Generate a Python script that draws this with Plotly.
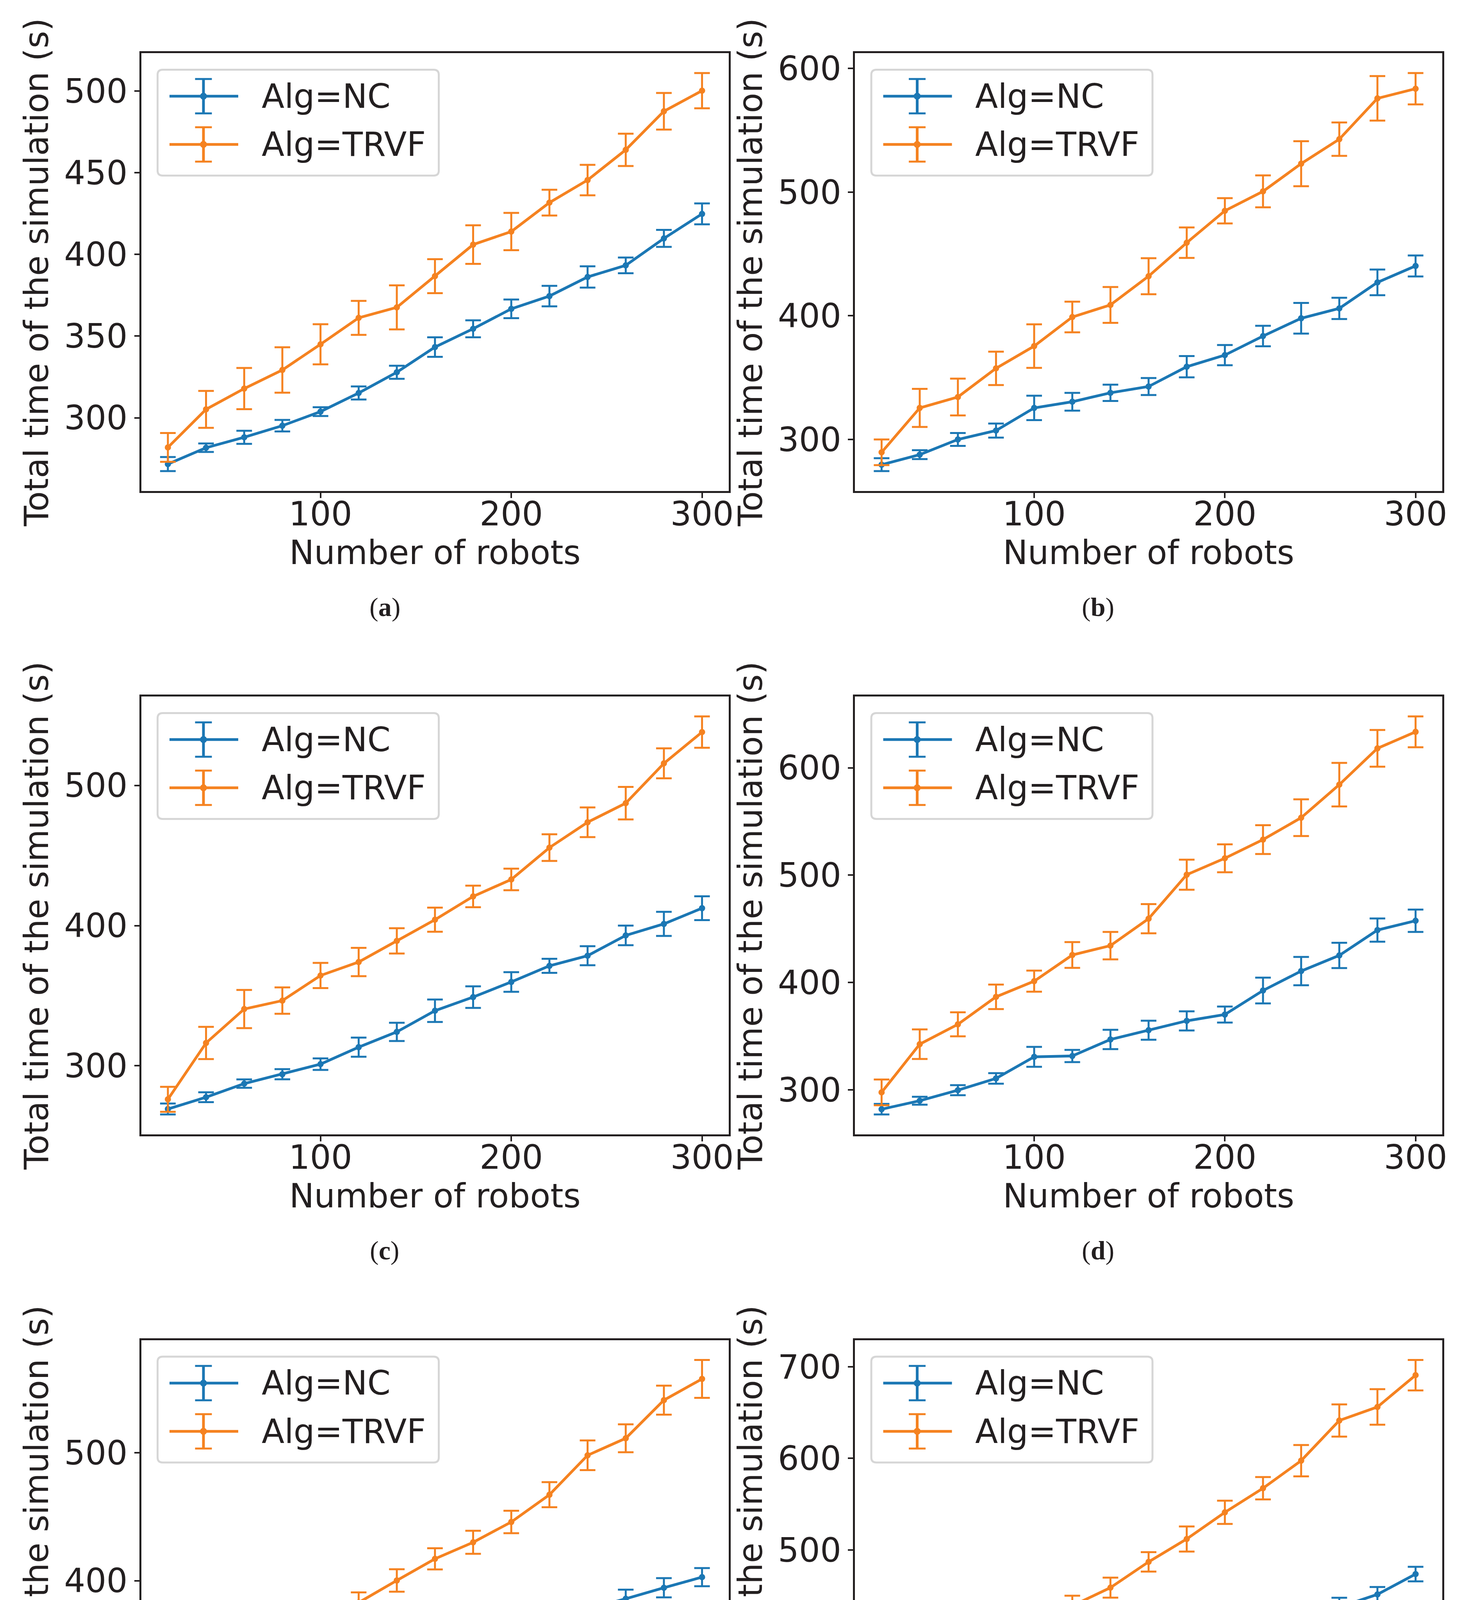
import plotly.graph_objects as go

# ---------------- data ----------------
robots = [20, 40, 60, 80, 100, 120, 140, 160, 180, 200, 220, 240, 260, 280, 300]

nc_a = [271.7, 281.7, 288.1, 295.2, 303.8, 315.2, 327.9, 343.3, 354.5, 366.7, 374.5, 386.2, 393.3, 409.8, 424.8]
nc_a_err = [4.3, 2.6, 4.0, 3.5, 2.7, 4.0, 4.0, 6.0, 5.2, 5.7, 6.3, 6.5, 4.8, 5.2, 6.4]
trvf_a = [281.9, 305.2, 317.9, 329.3, 345.0, 361.2, 367.6, 386.7, 406.0, 414.0, 431.7, 445.5, 464.0, 487.6, 500.2]
trvf_a_err = [8.8, 11.3, 12.6, 13.9, 12.3, 10.4, 13.5, 10.4, 11.8, 11.4, 7.9, 9.3, 9.9, 11.2, 10.8]

nc_b = [279.6, 287.7, 300.0, 307.2, 325.5, 330.5, 337.7, 342.8, 358.8, 368.2, 383.6, 398.0, 406.0, 427.0, 440.3]
nc_b_err = [5.2, 3.6, 5.2, 5.7, 9.9, 7.2, 6.6, 6.9, 8.6, 8.2, 8.3, 12.4, 8.6, 10.4, 8.5]
trvf_b = [289.6, 325.5, 334.3, 357.5, 375.5, 399.0, 408.8, 432.0, 459.1, 484.9, 500.6, 523.0, 542.8, 575.8, 583.6]
trvf_b_err = [10.4, 15.4, 14.9, 13.5, 17.6, 12.4, 14.5, 14.6, 12.3, 10.2, 12.9, 18.2, 13.5, 18.0, 12.7]

nc_c = [269.2, 277.6, 287.3, 294.0, 301.2, 313.3, 324.2, 339.3, 349.0, 359.8, 371.3, 378.5, 393.0, 401.2, 412.4]
nc_c_err = [3.9, 3.5, 3.0, 3.6, 4.1, 6.8, 6.5, 8.0, 7.7, 7.0, 5.0, 6.8, 7.0, 8.6, 8.5]
trvf_c = [276.1, 316.3, 340.5, 346.5, 364.4, 374.0, 389.1, 404.2, 420.8, 432.9, 455.6, 473.7, 487.3, 515.7, 538.0]
trvf_c_err = [8.9, 11.5, 13.6, 9.4, 9.0, 10.1, 9.0, 8.6, 7.7, 7.7, 9.5, 10.6, 11.6, 10.7, 11.2]

nc_d = [281.9, 289.8, 299.6, 310.6, 330.7, 331.5, 346.9, 355.5, 364.2, 370.1, 392.5, 410.6, 425.2, 448.8, 457.5]
nc_d_err = [4.9, 3.7, 4.7, 4.9, 9.3, 5.7, 9.0, 8.9, 8.9, 7.5, 12.0, 13.2, 11.8, 10.8, 10.4]
trvf_d = [297.6, 342.5, 361.0, 386.6, 401.2, 425.6, 434.3, 459.4, 500.4, 515.7, 533.1, 553.5, 584.3, 618.1, 633.5]
trvf_d_err = [12.0, 13.8, 11.2, 11.4, 9.8, 12.0, 12.8, 13.6, 14.0, 13.0, 13.4, 17.1, 20.3, 17.1, 14.4]

nc_e = [266.8, 279.8, 288.4, 293.7, 298.7, 309.6, 319.6, 338.1, 346.4, 360.7, 366.0, 378.0, 385.9, 394.5, 402.8]
nc_e_err = [5.8, 3.5, 3.5, 4.1, 5.5, 7.1, 6.8, 6.6, 7.5, 5.8, 6.1, 5.6, 7.1, 7.5, 7.1]
trvf_e = [272.8, 316.6, 331.8, 351.7, 367.7, 382.9, 400.2, 417.1, 430.0, 445.9, 467.2, 498.0, 511.3, 541.1, 557.7]
trvf_e_err = [11.8, 11.9, 10.0, 9.8, 8.3, 8.0, 8.8, 8.3, 9.0, 8.8, 9.8, 11.6, 10.9, 11.3, 14.8]

nc_f = [278.8, 291.7, 303.2, 313.4, 328.2, 341.1, 351.7, 366.5, 372.1, 388.7, 401.2, 424.2, 437.6, 451.5, 473.7]
nc_f_err = [6.5, 7.4, 6.0, 7.4, 7.4, 10.4, 9.7, 11.1, 10.4, 11.5, 10.2, 10.9, 10.2, 8.1, 7.9]
trvf_f = [298.2, 346.7, 369.7, 392.4, 420.6, 439.0, 458.9, 487.0, 512.0, 541.1, 567.4, 597.5, 641.3, 656.1, 690.8]
trvf_f_err = [14.5, 11.8, 10.2, 8.1, 15.2, 11.1, 10.9, 10.6, 13.7, 12.7, 12.2, 17.1, 17.6, 19.4, 16.6]

x_ticks = [100, 200, 300]
y_ticks_a = [300, 350, 400, 450, 500]
y_ticks_b = [300, 400, 500, 600]
y_ticks_c = [300, 400, 500]
y_ticks_d = [300, 400, 500, 600]
y_ticks_e = [300, 400, 500]
y_ticks_f = [300, 400, 500, 600, 700]

panel_labels = ["a", "b", "c", "d", "e", "f"]
series_names = ["Alg=NC", "Alg=TRVF"]
x_title = "Number of robots"
y_title = "Total time of the simulation (s)"

panels = [
    (nc_a, nc_a_err, trvf_a, trvf_a_err, y_ticks_a),
    (nc_b, nc_b_err, trvf_b, trvf_b_err, y_ticks_b),
    (nc_c, nc_c_err, trvf_c, trvf_c_err, y_ticks_c),
    (nc_d, nc_d_err, trvf_d, trvf_d_err, y_ticks_d),
    (nc_e, nc_e_err, trvf_e, trvf_e_err, y_ticks_e),
    (nc_f, nc_f_err, trvf_f, trvf_f_err, y_ticks_f),
]

# ---------------- style / geometry ----------------
W, H = 3764, 4953
COL_L = [353.5, 2181.0]
COL_R = [1858.0, 3685.0]
ROW_T = [128.0, 1775.0, 3422.5]
ROW_B = [1249.0, 2896.0, 4545.0]
CAP_X = [977.0, 2803.0]
CAP_DY = 297.0

BLUE = "#1b77b4"
ORANGE = "#f58220"
COLORS = [BLUE, ORANGE]
TXT = "#231f20"
FONT = "DejaVu Sans"
FS = 85

fig = go.Figure()
shapes = []
annotations = []

for i, (nc, nce, tr, tre, yt) in enumerate(panels):
    r, c = divmod(i, 2)
    k = "" if i == 0 else str(i + 1)
    xa, ya = "x" + k, "y" + k
    left, right = COL_L[c], COL_R[c]
    top, bottom = ROW_T[r], ROW_B[r]
    bw, bh = right - left, bottom - top

    for s, (vals, errs) in enumerate([(nc, nce), (tr, tre)]):
        fig.add_trace(go.Scatter(
            x=robots, y=vals, mode="lines+markers", name=series_names[s],
            xaxis=xa, yaxis=ya, showlegend=False,
            line=dict(color=COLORS[s], width=7),
            marker=dict(color=COLORS[s], size=16),
            error_y=dict(type="data", array=errs, visible=True,
                         color=COLORS[s], thickness=5, width=20),
        ))

    lo = min(min(v - e for v, e in zip(nc, nce)), min(v - e for v, e in zip(tr, tre)))
    hi = max(max(v + e for v, e in zip(nc, nce)), max(v + e for v, e in zip(tr, tre)))
    pad = 0.05 * (hi - lo)
    xpad = 0.05 * (max(robots) - min(robots))

    axis_common = dict(
        showline=True, mirror=True, linecolor=TXT, linewidth=5,
        ticks="outside", ticklen=13, tickwidth=4, tickcolor=TXT,
        showgrid=False, zeroline=False, automargin=False,
        tickfont=dict(family=FONT, size=FS, color=TXT),
    )
    fig.update_layout(**{
        ("xaxis" + k): dict(
            domain=[left / W, right / W], anchor=ya,
            range=[min(robots) - xpad, max(robots) + xpad],
            tickmode="array", tickvals=x_ticks, ticktext=[str(t) for t in x_ticks],
            ticklabelstandoff=-32,
            title=dict(text=x_title, font=dict(family=FONT, size=FS, color=TXT), standoff=12),
            **axis_common),
        ("yaxis" + k): dict(
            domain=[1 - bottom / H, 1 - top / H], anchor=xa,
            range=[lo - pad, hi + pad],
            tickmode="array", tickvals=yt, ticktext=[str(t) for t in yt],
            title=dict(text=y_title, font=dict(family=FONT, size=FS, color=TXT), standoff=14),
            **axis_common),
    })

    xr, yr = xa + " domain", ya + " domain"
    fx = lambda px: px / bw
    fy = lambda py: 1 - py / bh

    # legend frame (rounded)
    lx0, lx1 = fx(42), fx(42 + 720)
    ly1, ly0 = fy(42.5), fy(42.5 + 271)
    rx, ry = 13 / bw, 13 / bh
    path = (f"M {lx0+rx},{ly1} L {lx1-rx},{ly1} Q {lx1},{ly1} {lx1},{ly1-ry} "
            f"L {lx1},{ly0+ry} Q {lx1},{ly0} {lx1-rx},{ly0} L {lx0+rx},{ly0} "
            f"Q {lx0},{ly0} {lx0},{ly0+ry} L {lx0},{ly1-ry} Q {lx0},{ly1} {lx0+rx},{ly1} Z")
    shapes.append(dict(type="path", path=path, xref=xr, yref=yr,
                       line=dict(color="#d6d6d6", width=5), fillcolor="white", layer="above"))

    for s in range(2):
        ey = 110.3 + s * 123.4
        col = COLORS[s]
        shapes.append(dict(type="line", xref=xr, yref=yr, x0=fx(72.5), x1=fx(248.5),
                           y0=fy(ey), y1=fy(ey), line=dict(color=col, width=7), layer="above"))
        shapes.append(dict(type="line", xref=xr, yref=yr, x0=fx(159.5), x1=fx(159.5),
                           y0=fy(ey - 44), y1=fy(ey + 44), line=dict(color=col, width=7), layer="above"))
        for dy in (-44, 44):
            shapes.append(dict(type="line", xref=xr, yref=yr, x0=fx(159.5 - 21.5), x1=fx(159.5 + 21.5),
                               y0=fy(ey + dy), y1=fy(ey + dy), line=dict(color=col, width=5), layer="above"))
        shapes.append(dict(type="circle", xref=xr, yref=yr, x0=fx(159.5 - 8.5), x1=fx(159.5 + 8.5),
                           y0=fy(ey - 8.5), y1=fy(ey + 8.5), line=dict(color=col, width=1),
                           fillcolor=col, layer="above"))
        annotations.append(dict(text=series_names[s], xref=xr, yref=yr, x=fx(306), y=fy(ey),
                                xanchor="left", yanchor="middle", showarrow=False,
                                font=dict(family=FONT, size=FS, color=TXT)))

    annotations.append(dict(text=f"(<b>{panel_labels[i]}</b>)", xref="paper", yref="paper",
                            x=CAP_X[c] / W, y=1 - (bottom + CAP_DY) / H,
                            xanchor="center", yanchor="middle", showarrow=False,
                            font=dict(family="Liberation Serif", size=68, color=TXT)))

fig.update_layout(
    width=W, height=H, margin=dict(l=0, r=0, t=0, b=0),
    paper_bgcolor="white", plot_bgcolor="white",
    showlegend=False, shapes=shapes, annotations=annotations,
)

fig.write_html("out.html")
